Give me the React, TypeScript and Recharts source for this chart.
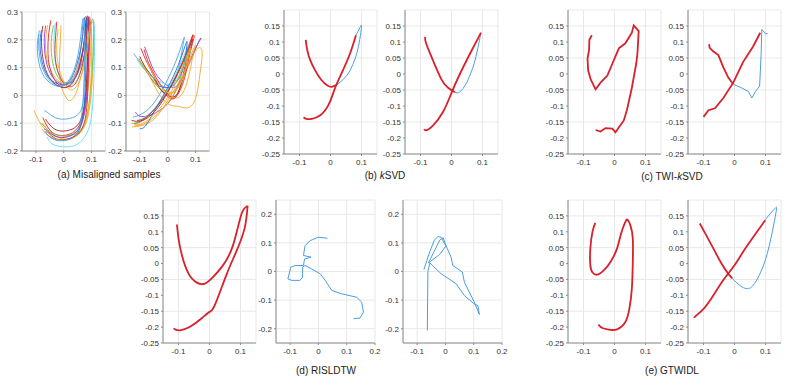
import { LineChart, Line, XAxis, YAxis, CartesianGrid } from 'recharts';

type Pt = [number, number];
type Series = { pts: Pt[]; color: string; w: number };

const RED = '#d9202b';
const BLUE = '#4a9de4';

// ticks
const X_TICKS = [-0.1, 0, 0.1];
const X_TICKS_WIDE = [-0.1, 0, 0.1, 0.2];
const Y_TICKS_A = [-0.2, -0.1, 0, 0.1, 0.2, 0.3];
const Y_TICKS_FINE = [-0.25, -0.2, -0.15, -0.1, -0.05, 0, 0.05, 0.1, 0.15];
const Y_TICKS_D = [-0.2, -0.1, 0, 0.1, 0.2];

// (a) misaligned samples, first letter
const A1_SAMPLES: { color: string; pts: Pt[] }[] = [
  { color: '#4aa3ee', pts: [[-0.088, 0.234], [-0.09, 0.18], [-0.08, 0.11], [-0.055, 0.06], [-0.02, 0.035], [0.02, 0.045], [0.05, 0.1], [0.065, 0.2], [0.07, 0.27], [0.078, 0.25], [0.075, 0.1], [0.07, -0.02], [0.05, -0.07], [0.01, -0.085], [-0.03, -0.08], [-0.06, -0.06], [-0.07, -0.055]] },
  { color: '#f5a623', pts: [[-0.058, 0.252], [-0.065, 0.2], [-0.06, 0.13], [-0.035, 0.07], [-0.005, 0.045], [0.03, 0.06], [0.06, 0.13], [0.08, 0.22], [0.09, 0.265], [0.098, 0.24], [0.095, 0.12], [0.085, 0.0], [0.065, -0.1], [0.03, -0.14], [-0.02, -0.15], [-0.07, -0.12], [-0.1, -0.07], [-0.106, -0.054]] },
  { color: '#f5a623', pts: [[-0.01, 0.252], [-0.012, 0.2], [-0.015, 0.12], [-0.01, 0.04], [0.01, -0.01], [0.025, -0.018], [0.045, 0.01], [0.07, 0.1], [0.09, 0.2], [0.1, 0.26], [0.108, 0.24], [0.105, 0.1], [0.095, -0.03], [0.075, -0.11], [0.035, -0.15], [-0.01, -0.155], [-0.05, -0.13], [-0.075, -0.1]] },
  { color: '#e3261c', pts: [[-0.046, 0.27], [-0.055, 0.21], [-0.055, 0.13], [-0.04, 0.07], [-0.015, 0.035], [0.015, 0.03], [0.045, 0.07], [0.07, 0.17], [0.08, 0.265], [0.088, 0.26], [0.085, 0.12], [0.08, -0.01], [0.06, -0.1], [0.02, -0.14], [-0.03, -0.14], [-0.06, -0.11], [-0.075, -0.08]] },
  { color: '#a3202a', pts: [[-0.075, 0.25], [-0.08, 0.19], [-0.07, 0.11], [-0.045, 0.055], [-0.01, 0.03], [0.025, 0.04], [0.055, 0.1], [0.075, 0.2], [0.082, 0.275], [0.09, 0.26], [0.085, 0.1], [0.075, -0.03], [0.055, -0.1], [0.02, -0.125], [-0.025, -0.125], [-0.055, -0.1], [-0.065, -0.085]] },
  { color: '#76c043', pts: [[-0.037, 0.252], [-0.045, 0.19], [-0.04, 0.12], [-0.02, 0.065], [0.01, 0.045], [0.04, 0.06], [0.07, 0.13], [0.09, 0.22], [0.1, 0.265], [0.108, 0.26], [0.105, 0.14], [0.095, 0.0], [0.075, -0.1], [0.04, -0.14], [-0.01, -0.145], [-0.05, -0.13], [-0.08, -0.1]] },
  { color: '#8e3bd8', pts: [[-0.065, 0.25], [-0.07, 0.19], [-0.06, 0.11], [-0.035, 0.06], [-0.005, 0.04], [0.03, 0.05], [0.06, 0.11], [0.075, 0.2], [0.085, 0.27], [0.092, 0.25], [0.088, 0.1], [0.08, -0.03], [0.06, -0.11], [0.025, -0.145], [-0.02, -0.15], [-0.055, -0.13], [-0.07, -0.12]] },
  { color: '#5fdcff', pts: [[-0.03, 0.26], [-0.035, 0.2], [-0.03, 0.12], [-0.01, 0.06], [0.02, 0.04], [0.05, 0.06], [0.075, 0.14], [0.09, 0.22], [0.1, 0.27], [0.11, 0.25], [0.11, 0.12], [0.105, -0.02], [0.09, -0.12], [0.05, -0.175], [0.0, -0.185], [-0.04, -0.175], [-0.06, -0.15]] },
  { color: '#1f6fd6', pts: [[-0.08, 0.235], [-0.085, 0.18], [-0.075, 0.11], [-0.05, 0.06], [-0.015, 0.04], [0.02, 0.05], [0.05, 0.12], [0.068, 0.21], [0.075, 0.275], [0.082, 0.26], [0.08, 0.12], [0.075, -0.02], [0.058, -0.12], [0.02, -0.155], [-0.025, -0.16], [-0.055, -0.145], [-0.065, -0.13]] },
  { color: '#e3261c', pts: [[-0.025, 0.265], [-0.03, 0.2], [-0.03, 0.13], [-0.015, 0.07], [0.01, 0.035], [0.04, 0.04], [0.065, 0.1], [0.08, 0.19], [0.088, 0.27], [0.095, 0.26], [0.09, 0.12], [0.085, -0.02], [0.07, -0.11], [0.035, -0.15], [-0.015, -0.16], [-0.05, -0.14], [-0.06, -0.13]] },
  { color: '#e8b020', pts: [[-0.02, 0.24], [-0.025, 0.18], [-0.02, 0.11], [0.0, 0.05], [0.025, 0.02], [0.05, 0.04], [0.075, 0.11], [0.09, 0.2], [0.095, 0.25], [0.1, 0.23], [0.1, 0.1], [0.09, -0.04], [0.07, -0.12], [0.03, -0.155], [-0.02, -0.16], [-0.06, -0.14], [-0.08, -0.12]] },
  { color: '#4aa3ee', pts: [[-0.09, 0.22], [-0.095, 0.17], [-0.085, 0.1], [-0.06, 0.055], [-0.03, 0.035], [0.005, 0.04], [0.04, 0.1], [0.06, 0.2], [0.068, 0.27], [0.075, 0.25], [0.075, 0.1], [0.068, -0.04], [0.05, -0.13], [0.015, -0.16], [-0.03, -0.16], [-0.06, -0.14], [-0.07, -0.13]] },
];

// (a) misaligned samples, second letter
const A2_SAMPLES: { color: string; pts: Pt[] }[] = [
  { color: '#4aa3ee', pts: [[-0.122, 0.15], [-0.1, 0.12], [-0.07, 0.08], [-0.04, 0.05], [-0.01, 0.03], [0.02, 0.04], [0.04, 0.1], [0.055, 0.18], [0.06, 0.21], [0.05, 0.18], [0.02, 0.1], [-0.02, 0.02], [-0.06, -0.04], [-0.1, -0.07], [-0.125, -0.078]] },
  { color: '#e3261c', pts: [[-0.096, 0.169], [-0.08, 0.13], [-0.055, 0.08], [-0.03, 0.03], [-0.005, 0.0], [0.025, -0.01], [0.05, 0.05], [0.07, 0.14], [0.09, 0.215], [0.08, 0.19], [0.05, 0.11], [0.01, 0.03], [-0.04, -0.04], [-0.09, -0.09], [-0.12, -0.1]] },
  { color: '#8e3bd8', pts: [[-0.083, 0.175], [-0.07, 0.14], [-0.05, 0.09], [-0.02, 0.05], [0.01, 0.03], [0.04, 0.04], [0.07, 0.1], [0.1, 0.17], [0.12, 0.205], [0.11, 0.19], [0.08, 0.12], [0.04, 0.04], [0.0, -0.03], [-0.06, -0.07], [-0.1, -0.075], [-0.116, -0.06]] },
  { color: '#76c043', pts: [[-0.104, 0.133], [-0.085, 0.1], [-0.06, 0.06], [-0.035, 0.03], [-0.01, 0.01], [0.02, 0.01], [0.045, 0.06], [0.065, 0.13], [0.08, 0.18], [0.07, 0.16], [0.04, 0.09], [0.0, 0.02], [-0.05, -0.05], [-0.1, -0.095], [-0.13, -0.1]] },
  { color: '#f5a623', pts: [[-0.09, 0.12], [-0.07, 0.08], [-0.045, 0.03], [-0.02, -0.01], [0.01, -0.035], [0.04, -0.04], [0.07, -0.045], [0.1, -0.012], [0.117, 0.084], [0.123, 0.163], [0.1, 0.16], [0.07, 0.1], [0.03, 0.03], [-0.02, -0.05], [-0.07, -0.1], [-0.128, -0.114]] },
  { color: '#a3202a', pts: [[-0.1, 0.14], [-0.08, 0.1], [-0.05, 0.06], [-0.025, 0.02], [0.0, 0.0], [0.03, 0.0], [0.055, 0.06], [0.075, 0.14], [0.09, 0.2], [0.08, 0.18], [0.045, 0.1], [0.005, 0.02], [-0.04, -0.05], [-0.09, -0.09], [-0.13, -0.09]] },
  { color: '#5fdcff', pts: [[-0.11, 0.13], [-0.09, 0.1], [-0.06, 0.07], [-0.03, 0.05], [0.0, 0.04], [0.03, 0.05], [0.05, 0.1], [0.07, 0.16], [0.08, 0.19], [0.07, 0.17], [0.04, 0.1], [0.0, 0.02], [-0.04, -0.04], [-0.085, -0.08], [-0.11, -0.09]] },
  { color: '#e3261c', pts: [[-0.085, 0.165], [-0.07, 0.12], [-0.045, 0.07], [-0.02, 0.03], [0.005, 0.0], [0.03, -0.005], [0.06, 0.06], [0.08, 0.15], [0.095, 0.21], [0.085, 0.2], [0.055, 0.12], [0.015, 0.04], [-0.03, -0.03], [-0.08, -0.08], [-0.11, -0.09]] },
  { color: '#f5a623', pts: [[-0.075, 0.12], [-0.055, 0.08], [-0.03, 0.04], [0.0, 0.01], [0.03, -0.01], [0.06, 0.02], [0.08, 0.09], [0.095, 0.16], [0.1, 0.18], [0.09, 0.16], [0.06, 0.08], [0.02, 0.0], [-0.03, -0.06], [-0.08, -0.1], [-0.12, -0.11]] },
  { color: '#1f6fd6', pts: [[-0.06, 0.06], [-0.04, 0.04], [-0.02, 0.03], [0.01, 0.03], [0.04, 0.06], [0.06, 0.12], [0.07, 0.19], [0.06, 0.17], [0.03, 0.09], [-0.01, 0.01], [-0.05, -0.06], [-0.08, -0.11], [-0.1, -0.12]] },
  { color: '#e8b020', pts: [[-0.1, 0.12], [-0.08, 0.09], [-0.05, 0.05], [-0.02, 0.02], [0.01, 0.01], [0.04, 0.03], [0.06, 0.08], [0.075, 0.14], [0.085, 0.17], [0.075, 0.15], [0.045, 0.08], [0.005, 0.0], [-0.045, -0.065], [-0.09, -0.1], [-0.12, -0.105]] },
];

// (b) kSVD
const B1_RED_A: Pt[] = [[-0.08, 0.107], [-0.075, 0.075], [-0.066, 0.045], [-0.05, 0.012], [-0.03, -0.018], [-0.01, -0.036], [0.004, -0.04], [0.02, -0.034]];
const B1_BLUE: Pt[] = [[0.02, -0.034], [0.042, -0.016], [0.063, 0.011], [0.08, 0.05], [0.09, 0.086], [0.098, 0.13], [0.1, 0.152], [0.095, 0.145], [0.082, 0.121]];
const B1_RED_B: Pt[] = [[0.082, 0.121], [0.063, 0.064], [0.037, 0.005], [0.015, -0.043], [-0.006, -0.096], [-0.033, -0.129], [-0.06, -0.14], [-0.078, -0.14], [-0.087, -0.135]];

const B2_RED_A: Pt[] = [[-0.085, 0.116], [-0.082, 0.096], [-0.06, 0.043], [-0.033, -0.016], [-0.011, -0.043], [0.011, -0.057]];
const B2_BLUE: Pt[] = [[0.011, -0.057], [0.027, -0.056], [0.049, -0.027], [0.065, 0.01], [0.076, 0.043], [0.088, 0.095], [0.095, 0.129]];
const B2_RED_B: Pt[] = [[0.095, 0.129], [0.06, 0.064], [0.027, 0.0], [0.0, -0.059], [-0.027, -0.118], [-0.06, -0.161], [-0.082, -0.176], [-0.088, -0.172]];

// (c) TWI-kSVD
const C1_RED: Pt[] = [[-0.073, 0.121], [-0.081, 0.107], [-0.082, 0.075], [-0.087, 0.048], [-0.085, 0.011], [-0.077, -0.016], [-0.061, -0.048], [-0.045, -0.027], [-0.023, -0.005], [-0.007, 0.032], [0.014, 0.08], [0.035, 0.096], [0.056, 0.129], [0.062, 0.152], [0.078, 0.134], [0.074, 0.064], [0.07, 0.032], [0.056, -0.043], [0.04, -0.113], [0.03, -0.145], [0.003, -0.182], [-0.007, -0.171], [-0.029, -0.169], [-0.045, -0.18], [-0.061, -0.175]];
const C2_RED_A: Pt[] = [[-0.082, 0.093], [-0.08, 0.082], [-0.068, 0.07], [-0.052, 0.059], [-0.036, 0.021], [-0.02, -0.011], [-0.004, -0.032]];
const C2_BLUE: Pt[] = [[-0.004, -0.032], [0.022, -0.043], [0.044, -0.054], [0.056, -0.075], [0.068, -0.054], [0.081, -0.038], [0.086, 0.064], [0.088, 0.139], [0.1, 0.126], [0.107, 0.126]];
const C2_RED_B: Pt[] = [[0.083, 0.129], [0.06, 0.086], [0.028, 0.038], [-0.004, -0.027], [-0.036, -0.075], [-0.063, -0.107], [-0.084, -0.113], [-0.1, -0.134]];

// (d) RISLDTW
const D1_RED_A: Pt[] = [[-0.105, 0.123], [-0.1, 0.079], [-0.089, 0.026], [-0.068, -0.031], [-0.041, -0.06], [-0.015, -0.063], [0.012, -0.042], [0.044, -0.005], [0.076, 0.058], [0.102, 0.152], [0.118, 0.178], [0.123, 0.182]];
const D1_RED_B: Pt[] = [[0.123, 0.182], [0.113, 0.11], [0.086, 0.037], [0.054, -0.037], [0.017, -0.131], [0.0, -0.152], [-0.026, -0.173], [-0.063, -0.199], [-0.095, -0.21], [-0.111, -0.207], [-0.116, -0.204]];
const D2_BLUE: Pt[] = [[0.032, 0.116], [0.0, 0.12], [-0.029, 0.108], [-0.047, 0.091], [-0.053, 0.056], [-0.026, 0.05], [-0.049, 0.044], [-0.053, 0.021], [-0.082, 0.021], [-0.098, 0.015], [-0.108, -0.026], [-0.094, -0.031], [-0.065, -0.031], [-0.056, -0.02], [-0.056, 0.015], [-0.047, 0.021], [-0.024, 0.009], [0.006, -0.008], [0.024, -0.031], [0.047, -0.066], [0.082, -0.078], [0.135, -0.09], [0.153, -0.107], [0.159, -0.142], [0.147, -0.163], [0.124, -0.165]];
const D3_BLUE: Pt[] = [[-0.076, 0.007], [-0.055, 0.07], [-0.039, 0.11], [-0.027, 0.122], [-0.015, 0.12], [-0.005, 0.1], [0.002, 0.09], [-0.02, 0.06], [-0.06, 0.03], [-0.04, 0.07], [-0.02, 0.11], [-0.008, 0.118], [0.0, 0.095], [0.02, 0.05], [0.026, 0.021], [0.06, -0.002], [0.067, -0.037], [0.102, -0.107], [0.12, -0.15], [0.115, -0.12], [0.1, -0.112], [0.067, -0.084], [0.038, -0.043], [-0.015, -0.008], [-0.055, 0.03], [-0.062, 0.0], [-0.063, -0.1], [-0.064, -0.206]];

// (e) GTWIDL
const E1_RED: Pt[] = [[-0.062, 0.128], [-0.071, 0.1], [-0.078, 0.047], [-0.078, -0.005], [-0.071, -0.028], [-0.055, -0.035], [-0.034, -0.021], [-0.013, 0.005], [0.008, 0.047], [0.021, 0.094], [0.035, 0.131], [0.042, 0.138], [0.051, 0.121], [0.059, 0.079], [0.059, 0.005], [0.056, -0.079], [0.048, -0.142], [0.035, -0.184], [0.008, -0.207], [-0.018, -0.208], [-0.039, -0.203], [-0.052, -0.192]];
const E2_RED_A: Pt[] = [[-0.112, 0.126], [-0.094, 0.094], [-0.068, 0.047], [-0.042, 0.0], [-0.021, -0.031], [-0.007, -0.047]];
const E2_BLUE: Pt[] = [[-0.007, -0.047], [0.016, -0.068], [0.042, -0.079], [0.068, -0.058], [0.099, 0.01], [0.122, 0.1], [0.135, 0.168], [0.13, 0.173], [0.109, 0.15], [0.099, 0.136]];
const E2_RED_B: Pt[] = [[0.099, 0.136], [0.068, 0.094], [0.031, 0.042], [0.0, -0.005], [-0.036, -0.052], [-0.068, -0.1], [-0.099, -0.142], [-0.125, -0.165], [-0.13, -0.171]];

const FONT = "'Liberation Sans', Arial, Helvetica, sans-serif";
const YW = 30;
const XH = 20;
const PAD_T = 6;
const PAD_R = 10;

type PanelProps = {
  left: number;
  top: number;
  w: number;
  h: number;
  xd: [number, number];
  yd: [number, number];
  xt: number[];
  yt: number[];
  series: Series[];
  curve?: 'linear' | 'natural';
};

function Panel({ left, top, w, h, xd, yd, xt, yt, series, curve = 'linear' }: PanelProps) {
  const tick = { fontSize: 8, fill: '#333', fontFamily: FONT };
  return (
    <div style={{ position: 'absolute', left: left - YW, top: top - PAD_T }}>
      <LineChart width={YW + w + PAD_R} height={PAD_T + h + XH} margin={{ top: PAD_T, right: PAD_R, left: 0, bottom: 0 }}>
        <CartesianGrid stroke="#e8e8e8" />
        <XAxis
          type="number"
          dataKey="x"
          domain={xd}
          ticks={xt}
          allowDataOverflow
          height={XH}
          tick={tick}
          tickSize={2}
          tickMargin={3}
          axisLine={{ stroke: '#8c8c8c' }}
          tickLine={{ stroke: '#8c8c8c' }}
          tickFormatter={(v: number) => String(v)}
        />
        <YAxis
          type="number"
          dataKey="y"
          domain={yd}
          ticks={yt}
          allowDataOverflow
          width={YW}
          tick={tick}
          tickSize={2}
          tickMargin={2}
          axisLine={{ stroke: '#8c8c8c' }}
          tickLine={{ stroke: '#8c8c8c' }}
          tickFormatter={(v: number) => String(v)}
        />
        {series.map((s, i) => (
          <Line
            key={i}
            data={s.pts.map(([x, y]) => ({ x, y }))}
            dataKey="y"
            type={curve}
            stroke={s.color}
            strokeWidth={s.w}
            dot={false}
            activeDot={false}
            isAnimationActive={false}
          />
        ))}
      </LineChart>
    </div>
  );
}

function Caption({ cx, cy, children }: { cx: number; cy: number; children: React.ReactNode }) {
  return (
    <div
      style={{
        position: 'absolute', left: cx - 100, top: cy - 6, width: 200, textAlign: 'center',
        fontFamily: FONT, fontSize: 10, lineHeight: '12px', color: '#222',
      }}
    >
      {children}
    </div>
  );
}

const red = (pts: Pt[]): Series => ({ pts, color: RED, w: 1.8 });
const blue = (pts: Pt[]): Series => ({ pts, color: BLUE, w: 1 });

export default function App() {
  const fineX: [number, number] = [-0.15, 0.15];
  const fineY: [number, number] = [-0.25, 0.2];
  return (
    <div style={{ position: 'absolute', left: 0, top: 0, width: 789, height: 386, background: '#fff', overflow: 'hidden' }}>
      <Panel left={22.3} top={11.7} w={83.4} h={139} xd={[-0.15, 0.15]} yd={[-0.2, 0.3]} xt={X_TICKS} yt={Y_TICKS_A}
        curve="natural" series={A1_SAMPLES.map((s) => ({ pts: s.pts, color: s.color, w: 0.9 }))} />
      <Panel left={125.7} top={11.7} w={83.4} h={139} xd={[-0.15, 0.15]} yd={[-0.2, 0.3]} xt={X_TICKS} yt={Y_TICKS_A}
        curve="natural" series={A2_SAMPLES.map((s) => ({ pts: s.pts, color: s.color, w: 0.9 }))} />

      <Panel left={283.5} top={10} w={93} h={144} xd={fineX} yd={fineY} xt={X_TICKS} yt={Y_TICKS_FINE}
        curve="natural" series={[blue(B1_BLUE), red(B1_RED_A), red(B1_RED_B)]} />
      <Panel left={405} top={10} w={93} h={144} xd={fineX} yd={fineY} xt={X_TICKS} yt={Y_TICKS_FINE}
        curve="natural" series={[blue(B2_BLUE), red(B2_RED_A), red(B2_RED_B)]} />

      <Panel left={567.5} top={10} w={93} h={144} xd={fineX} yd={fineY} xt={X_TICKS} yt={Y_TICKS_FINE}
        series={[red(C1_RED)]} />
      <Panel left={688} top={10} w={93} h={144} xd={fineX} yd={fineY} xt={X_TICKS} yt={Y_TICKS_FINE}
        series={[blue(C2_BLUE), red(C2_RED_A), red(C2_RED_B)]} />

      <Panel left={163.2} top={200} w={93} h={143} xd={fineX} yd={fineY} xt={X_TICKS} yt={Y_TICKS_FINE}
        curve="natural" series={[red(D1_RED_A), red(D1_RED_B)]} />
      <Panel left={276} top={200} w={99} h={143} xd={[-0.15, 0.2]} yd={[-0.25, 0.25]} xt={X_TICKS_WIDE} yt={Y_TICKS_D}
        series={[blue(D2_BLUE)]} />
      <Panel left={402.7} top={200} w={99} h={143} xd={[-0.15, 0.2]} yd={[-0.25, 0.25]} xt={X_TICKS_WIDE} yt={Y_TICKS_D}
        series={[blue(D3_BLUE)]} />

      <Panel left={567.5} top={200} w={93} h={143} xd={fineX} yd={fineY} xt={X_TICKS} yt={Y_TICKS_FINE}
        curve="natural" series={[red(E1_RED)]} />
      <Panel left={688} top={200} w={93} h={143} xd={fineX} yd={fineY} xt={X_TICKS} yt={Y_TICKS_FINE}
        curve="natural" series={[blue(E2_BLUE), red(E2_RED_A), red(E2_RED_B)]} />

      <Caption cx={109} cy={175}>(a) Misaligned samples</Caption>
      <Caption cx={385} cy={176}>(b) <i>k</i>SVD</Caption>
      <Caption cx={672} cy={176.5}>(c) TWI-<i>k</i>SVD</Caption>
      <Caption cx={326} cy={371}>(d) RISLDTW</Caption>
      <Caption cx={672} cy={371}>(e) GTWIDL</Caption>
    </div>
  );
}
